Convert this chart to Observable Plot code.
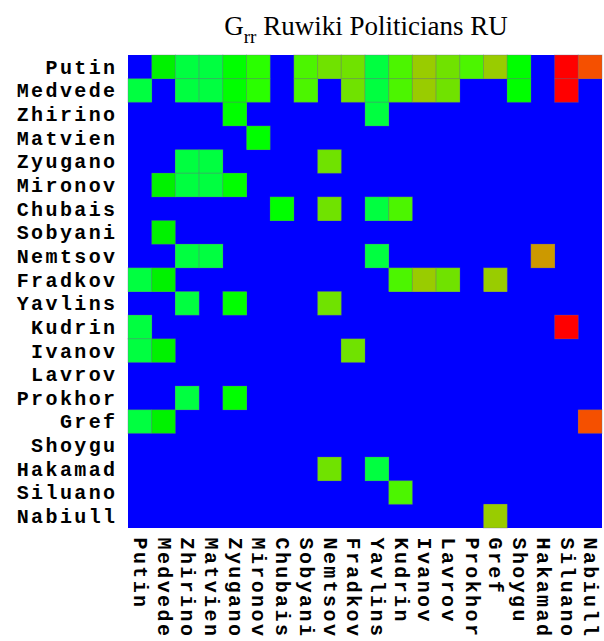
<!DOCTYPE html>
<html>
<head>
<meta charset="utf-8">
<script src="https://cdn.jsdelivr.net/npm/d3@7"></script>
<script src="https://cdn.jsdelivr.net/npm/@observablehq/plot@0.6"></script>
<style>
  body { margin: 0; background: #fff; }
  #title { height: 48px; box-sizing: border-box; padding-left: 128px; width: 604px; padding-top: 13px;
           text-align: center; font-family: "Liberation Serif", "Times New Roman", serif; font-size: 27px; color: #000; line-height: 1; white-space: nowrap; }
  #title sub { font-size: 19px; vertical-align: -8px; line-height: 0; }
  #chart svg { display: block; overflow: visible; }
  #chart svg g[aria-label="x-axis tick label"] text,
  #chart svg g[aria-label="y-axis tick label"] text { font-family: "Liberation Mono", monospace; font-weight: bold; font-size: 20px; letter-spacing: 2.4px; }
</style>
</head>
<body>
<div id="title">G<sub>rr</sub> Ruwiki Politicians RU</div>
<div id="chart"></div>
<script>
const names = ["Putin","Medvede","Zhirino","Matvien","Zyugano","Mironov","Chubais","Sobyani","Nemtsov","Fradkov",
               "Yavlins","Kudrin","Ivanov","Lavrov","Prokhor","Gref","Shoygu","Hakamad","Siluano","Nabiull"];

// intensity level (0 = none)
const Putin   = [0,2,1,1,3,4,0,5,6,6,1,5,7,6,5,7,3,0,10,9];
const Medvede = [1,0,1,1,3,4,0,5,0,6,1,5,7,6,0,0,3,0,10,0];
const Zhirino = [0,0,0,0,3,0,0,0,0,0,1,0,0,0,0,0,0,0,0,0];
const Matvien = [0,0,0,0,0,3,0,0,0,0,0,0,0,0,0,0,0,0,0,0];
const Zyugano = [0,0,1,1,0,0,0,0,6,0,0,0,0,0,0,0,0,0,0,0];
const Mironov = [0,2,1,1,3,0,0,0,0,0,0,0,0,0,0,0,0,0,0,0];
const Chubais = [0,0,0,0,0,0,3,0,6,0,1,5,0,0,0,0,0,0,0,0];
const Sobyani = [0,2,0,0,0,0,0,0,0,0,0,0,0,0,0,0,0,0,0,0];
const Nemtsov = [0,0,1,1,0,0,0,0,0,0,1,0,0,0,0,0,0,8,0,0];
const Fradkov = [1,2,0,0,0,0,0,0,0,0,0,5,7,6,0,7,0,0,0,0];
const Yavlins = [0,0,1,0,3,0,0,0,6,0,0,0,0,0,0,0,0,0,0,0];
const Kudrin  = [1,0,0,0,0,0,0,0,0,0,0,0,0,0,0,0,0,0,10,0];
const Ivanov  = [1,2,0,0,0,0,0,0,0,6,0,0,0,0,0,0,0,0,0,0];
const Lavrov  = [0,0,0,0,0,0,0,0,0,0,0,0,0,0,0,0,0,0,0,0];
const Prokhor = [0,0,1,0,3,0,0,0,0,0,0,0,0,0,0,0,0,0,0,0];
const Gref    = [1,2,0,0,0,0,0,0,0,0,0,0,0,0,0,0,0,0,0,9];
const Shoygu  = [0,0,0,0,0,0,0,0,0,0,0,0,0,0,0,0,0,0,0,0];
const Hakamad = [0,0,0,0,0,0,0,0,6,0,1,0,0,0,0,0,0,0,0,0];
const Siluano = [0,0,0,0,0,0,0,0,0,0,0,5,0,0,0,0,0,0,0,0];
const Nabiull = [0,0,0,0,0,0,0,0,0,0,0,0,0,0,0,7,0,0,0,0];

const rows = [Putin,Medvede,Zhirino,Matvien,Zyugano,Mironov,Chubais,Sobyani,Nemtsov,Fradkov,
              Yavlins,Kudrin,Ivanov,Lavrov,Prokhor,Gref,Shoygu,Hakamad,Siluano,Nabiull];

const levels = [0,1,2,3,4,5,6,7,8,9,10];
const levelColors = ["#0000ff","#00ff40","#00f200","#00ff00","#2aff00","#4cf500","#70e200","#99cc00","#cc9900","#f55000","#ff0000"];

const data = rows.flatMap((r, i) => r.map((v, j) => ({row: names[i], col: names[j], v})));

const chart = Plot.plot({
  width: 604,
  height: 593,
  marginTop: 7,
  marginLeft: 128,
  marginRight: 2,
  marginBottom: 113,
  x: {domain: names, padding: 0, round: false, label: null, tickRotate: 90, tickSize: 0, tickPadding: 9},
  y: {domain: names, padding: 0, round: false, label: null, tickSize: 0, tickPadding: 11},
  color: {type: "linear", domain: levels, range: levelColors, interpolate: "rgb"},
  marks: [
    Plot.cell(data, {x: "col", y: "row", fill: "v", shapeRendering: "crispEdges"}),
    Plot.cell(data.filter(d => d.v > 0), {x: "col", y: "row", fill: "v", stroke: "#6a6a8a", strokeOpacity: 0.35, strokeWidth: 1})
  ]
});
document.getElementById("chart").appendChild(chart);
</script>
</body>
</html>
